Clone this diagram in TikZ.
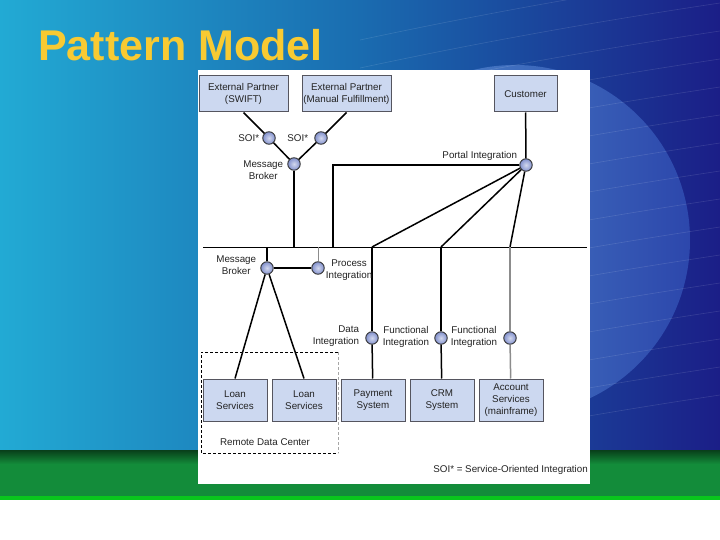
\documentclass[tikz,border=0pt]{standalone}
\usepackage{fontspec}
\setmainfont{Liberation Sans}
\usetikzlibrary{positioning,calc}
\definecolor{bgCyan}{RGB}{34,170,212}
\definecolor{bgMid}{RGB}{26,108,176}
\definecolor{bgNavy}{RGB}{27,30,135}
\definecolor{globeLight}{RGB}{130,178,235}
\definecolor{globeDark}{RGB}{60,100,200}
\definecolor{bandGreen}{RGB}{19,140,58}
\definecolor{titleGold}{RGB}{248,202,50}
\definecolor{boxBlue}{RGB}{204,216,240}
\definecolor{boxEdge}{RGB}{85,85,95}
\definecolor{hubBlue}{RGB}{130,145,205}
\definecolor{inkGray}{RGB}{35,35,35}
\newcommand{\diagfont}{\fontsize{9.8}{11.8}\selectfont}
\newcommand{\titlefont}{\fontsize{43}{50}\selectfont\bfseries}
\tikzset{
  sysbox/.style={draw=boxEdge, fill=boxBlue, line width=1pt, align=center,
                 inner sep=1pt, font=\diagfont, text=inkGray},
  hub/.style={circle, draw=black!80, line width=0.9pt, minimum size=12.5pt, inner sep=0pt,
              inner color=white!65!hubBlue, outer color=hubBlue},
  lbl/.style={font=\diagfont, text=inkGray, align=center, inner sep=1pt},
  link/.style={line width=1.5pt, draw=black},
  graylink/.style={line width=1.5pt, draw=black!45},
  busline/.style={line width=0.9pt, draw=black},
  remote/.style={dash pattern=on 3pt off 2pt, line width=0.8pt, draw=black}
}

\begin{document}
\begin{tikzpicture}[x=1pt, y=-1pt]
\useasboundingbox (0,0) rectangle (720,540);

% slide background
\fill[white] (0,0) rectangle (720,540);
\shade[left color=bgCyan, right color=bgNavy, middle color=bgMid] (0,0) rectangle (720,450);
\begin{scope}
  \clip (515,240) circle (175);
  \shade[left color=globeLight, right color=globeDark, opacity=0.55] (340,60) rectangle (690,420);
\end{scope}
\begin{scope}
  \clip (360,0) rectangle (720,450);
  \foreach \k in {0,...,15}
    \draw[white, opacity=0.12, line width=0.6pt]
      (360,40+\k*28) .. controls (500,10+\k*28) and (620,-10+\k*28) .. (720,-25+\k*28);
\end{scope}
\fill[bandGreen] (0,450) rectangle (720,500);
\shade[top color=black!55!bandGreen, bottom color=bandGreen] (0,450) rectangle (720,464);
\fill[green!50!bandGreen] (0,496) rectangle (720,500);

% title
\node[anchor=base west, font=\titlefont, text=titleGold, inner sep=0pt] (title) at (38,61) {Pattern Model};

% white panel
\fill[white] (198,70) rectangle (590,484);

% systems
\node[sysbox, minimum width=89pt, minimum height=36pt] (swift) at (243.5,94) {External Partner\\(SWIFT)};
\node[sysbox, minimum width=89pt, minimum height=36pt, right=13pt of swift] (manual) {External Partner\\(Manual Fulfillment)};
\node[sysbox, minimum width=63pt, minimum height=36pt] (customer) at (525.5,94) {Customer};
\node[sysbox, minimum width=64pt, minimum height=42pt] (loanA) at (235,400) {Loan\\Services};
\node[sysbox, minimum width=64pt, minimum height=42pt, right=4pt of loanA] (loanB) {Loan\\Services};
\node[sysbox, minimum width=64pt, minimum height=42pt, right=4pt of loanB] (payment) {Payment\\System};
\node[sysbox, minimum width=64pt, minimum height=42pt, right=4pt of payment] (crm) {CRM\\System};
\node[sysbox, minimum width=64pt, minimum height=42pt, right=4pt of crm] (account) {Account\\Services\\(mainframe)};

% integration points
\node[hub] (soiA) at (269,138) {};
\node[hub] (soiB) at (321,138) {};
\node[hub] (brokerUp) at (294,164) {};
\node[hub] (portal) at (526,165) {};
\node[hub] (brokerLow) at (267,268) {};
\node[hub] (process) at (318,268) {};
\node[hub] (dataInt) at (372,338) {};
\node[hub] (funcA) at (441,338) {};
\node[hub] (funcB) at (510,338) {};

% bus taps
\coordinate (busW) at (203,247);
\coordinate (busE) at (587,247);
\coordinate (tapBrokerLow) at (267,247);
\coordinate (tapBrokerUp) at (294,247);
\coordinate (tapProcess) at (318,247);
\coordinate (tapPortal) at (333,247);
\coordinate (tapPay) at (372,247);
\coordinate (tapCrm) at (441,247);
\coordinate (tapAcct) at (510,247);

% connectors
\draw[busline] (busW) -- (busE);
\draw[link] (swift.south) -- (soiA);
\draw[link] (manual.south) -- (soiB);
\draw[link] (soiA) -- (brokerUp);
\draw[link] (soiB) -- (brokerUp);
\draw[link] (brokerUp) -- (tapBrokerUp);
\draw[link] (customer) -- (portal);
\draw[link] (portal.west) -| (tapPortal);
\draw[link] (portal) -- (tapPay);
\draw[link] (portal) -- (tapCrm);
\draw[link] (portal) -- (tapAcct);
\draw[link] (tapBrokerLow) -- (brokerLow);
\draw[link] (brokerLow) -- (process);
\draw[graylink, line width=0.9pt] (tapProcess) -- (process);
\draw[link] (brokerLow) -- (loanA.north);
\draw[link] (brokerLow) -- (loanB.north);
\draw[link] (tapPay) -- (dataInt);
\draw[link] (dataInt) -- (payment);
\draw[link] (tapCrm) -- (funcA);
\draw[link] (funcA) -- (crm);
\draw[graylink] (tapAcct) -- (funcB);
\draw[graylink] (funcB) -- (account);

% labels
\node[lbl, left=2pt of soiA] (soiAlbl) {SOI*};
\node[lbl, left=5pt of soiB] (soiBlbl) {SOI*};
\node[lbl, left=3pt of brokerUp, yshift=-6.5pt] (brokerUpLbl) {Message\\Broker};
\node[lbl, left=1pt of portal, yshift=9pt] (portalLbl) {Portal Integration};
\node[lbl, left=3pt of brokerLow, yshift=3pt] (brokerLowLbl) {Message\\Broker};
\node[lbl, right=0pt of process, yshift=-2.5pt] (processLbl) {Process\\Integration};
\node[lbl, align=right, left=5pt of dataInt, yshift=1.5pt] (dataIntLbl) {Data\\Integration};
\node[lbl, left=4pt of funcA, yshift=1pt] (funcALbl) {Functional\\Integration};
\node[lbl, left=5pt of funcB, yshift=1pt] (funcBLbl) {Functional\\Integration};

% remote data center
\draw[remote] (338,352) -| (201,453) -- (338,453);
\draw[remote, draw=black!35] (338,352) -- (338,453);
\node[lbl] (remoteLbl) at (265,442) {Remote Data Center};

\node[lbl, anchor=east] (soiNote) at (589,470) {SOI* = Service-Oriented Integration};
\end{tikzpicture}
\end{document}
